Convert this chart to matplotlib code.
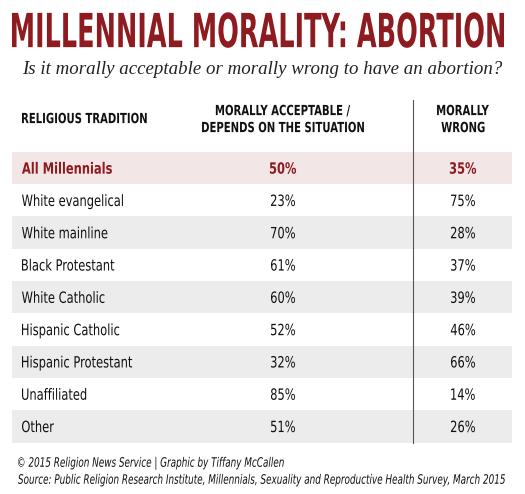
import matplotlib
matplotlib.use('Agg')
import matplotlib.pyplot as plt
from matplotlib.patches import Rectangle, PathPatch
from matplotlib.textpath import TextPath
from matplotlib.font_manager import FontProperties
from matplotlib.transforms import Affine2D

traditions = ['All Millennials', 'White evangelical', 'White mainline', 'Black Protestant',
              'White Catholic', 'Hispanic Catholic', 'Hispanic Protestant', 'Unaffiliated', 'Other']
acceptable = [50, 23, 70, 61, 60, 52, 32, 85, 51]
wrong = [35, 75, 28, 37, 39, 46, 66, 14, 26]

red = '#8e1b1f'

fig = plt.figure(figsize=(5.25, 4.94), dpi=100)
ax = fig.add_axes([0, 0, 1, 1])
ax.set_xlim(0, 525)
ax.set_ylim(494, 0)
ax.axis('off')


# condensed text: no narrow font installed, so squeeze a text path
def ntext(x, y, s, px, sx=0.74, ha='left', color='#111111', weight='normal', style='normal', width=None):
    fp = FontProperties(family='DejaVu Sans', weight=weight, style=style)
    tp = TextPath((0, 0), s, size=px, prop=fp)
    bb = tp.get_extents()
    if width is not None:
        sx = width / bb.width
    w = bb.width * sx
    ox = x - bb.x0 * sx - (w / 2 if ha == 'center' else 0)
    tr = Affine2D().scale(sx, -1).translate(ox, y + 0.365 * px)
    ax.add_patch(PathPatch(tr.transform_path(tp), fc=color, lw=0, zorder=3))
    return sx


ntext(12, 30, 'MILLENNIAL MORALITY: ABORTION', 47, color=red, weight='bold', width=492)
ax.text(22, 70, 'Is it morally acceptable or morally wrong to have an abortion?', fontsize=13.6,
        style='italic', family=['Liberation Serif', 'DejaVu Serif'], va='center', color='#222222')

ntext(22, 118, 'RELIGIOUS TRADITION', 14, weight='bold', sx=0.72)
ntext(283, 110, 'MORALLY ACCEPTABLE /', 14, weight='bold', sx=0.72, ha='center')
ntext(283, 127, 'DEPENDS ON THE SITUATION', 14, weight='bold', sx=0.72, ha='center')
ntext(463, 110, 'MORALLY', 14, weight='bold', sx=0.72, ha='center')
ntext(463, 127, 'WRONG', 14, weight='bold', sx=0.72, ha='center')

y0, dy = 168, 32.3
for i, (t, a, w) in enumerate(zip(traditions, acceptable, wrong)):
    y = y0 + i * dy
    if i % 2 == 0:
        fc = '#f3e6e6' if i == 0 else '#ececec'
        ax.add_patch(Rectangle((12, y - dy / 2), 500, dy, facecolor=fc, edgecolor='none', zorder=0))
    c = red if i == 0 else '#111111'
    wt = 'bold' if i == 0 else 'normal'
    ntext(22, y, t, 15.5, color=c, weight=wt)
    ntext(283, y, f'{a}%', 15.5, color=c, weight=wt, ha='center')
    ntext(463, y, f'{w}%', 15.5, color=c, weight=wt, ha='center')

ax.plot([413, 413], [100, y0 + 8.5 * dy], color='#555555', lw=0.8)

sx = ntext(18, 479, 'Source: Public Religion Research Institute, Millennials, Sexuality and Reproductive Health Survey, March 2015',
           13, style='italic', width=487)
ntext(18, 462, '© 2015 Religion News Service | Graphic by Tiffany McCallen', 13, style='italic', sx=sx)

fig.savefig('out.png', dpi=100)
